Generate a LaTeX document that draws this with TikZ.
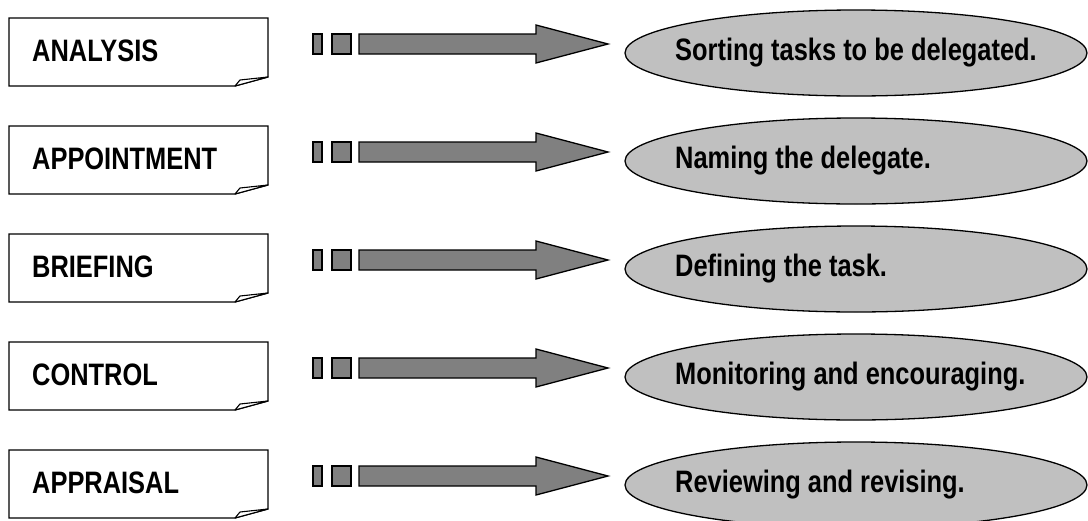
\documentclass[tikz,border=0pt]{standalone}
\usepackage{fontspec}
\setmainfont{Liberation Sans}[FakeStretch=0.82]
\usetikzlibrary{shapes.geometric}
\definecolor{arrowgray}{HTML}{808080}
\definecolor{ellgray}{HTML}{C0C0C0}
\tikzset{
  lbl/.style={anchor=base west, inner sep=0pt, font=\fontsize{31}{36}\selectfont\bfseries},
  notebox/.style={draw=black, fill=white, line width=1.3pt, line join=miter},
  fold/.style={draw=black, fill=white, line width=1.1pt, line join=round},
  bigarrow/.style={draw=black, fill=arrowgray, line width=1.3pt, line join=miter},
  result/.style={ellipse, draw=black, fill=ellgray, line width=1.3pt, minimum width=462pt, minimum height=86pt, inner sep=0pt}
}
\begin{document}
\begin{tikzpicture}[x=1pt,y=-1pt]
\useasboundingbox (0,0) rectangle (1088,520);
\clip (0,0) rectangle (1088,520);
\foreach \lab/\txt [count=\i from 0] in {ANALYSIS/Sorting tasks to be delegated., APPOINTMENT/Naming the delegate., BRIEFING/Defining the task., CONTROL/Monitoring and encouraging., APPRAISAL/Reviewing and revising.}{
  \pgfmathsetmacro{\dy}{108*\i}
  % note box with folded corner
  \draw[notebox] (9,18+\dy) -- (268,18+\dy) -- (268,77+\dy) -- (235,86+\dy) -- (9,86+\dy) -- cycle;
  \draw[fold] (235,86+\dy) -- (240,80+\dy) -- (268,77+\dy) -- cycle;
  \node[lbl] (lab\i) at (32,61+\dy) {\lab};
  % arrow
  \coordinate (a\i) at (313,44+\dy);
  \draw[bigarrow] (313,34+\dy) rectangle (322,54+\dy);
  \draw[bigarrow] (332,34+\dy) rectangle (351,54+\dy);
  \draw[bigarrow] (359,34+\dy) -- (536,34+\dy) -- (536,25+\dy) -- (608,44+\dy) -- (536,63+\dy) -- (536,54+\dy) -- (359,54+\dy) -- cycle;
  % result ellipse
  \node[result] (res\i) at (856,53+\dy) {};
  \node[lbl] (txt\i) at (675,60+\dy) {\txt};
}
\end{tikzpicture}
\end{document}
